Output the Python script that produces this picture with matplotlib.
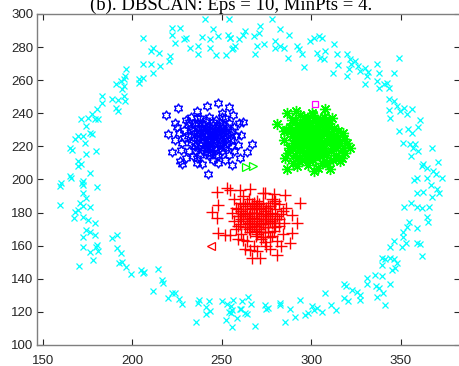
import numpy as np
import matplotlib
matplotlib.use("Agg")
import matplotlib.pyplot as plt
from matplotlib.path import Path

# cluster 1 - ring (cyan x)
ring_x = [240.6, 254.2, 222, 226.6, 222, 229, 230.2, 245.2, 248, 239.1, 243.4, 253.6, 254.6, 205.8, 223.8,
          232.2, 236.9, 243.4, 256.4, 211.4, 210.8, 215, 236.9, 246.9, 252.5, 221, 220.6, 205.8, 210.8, 215.5,
          211.8, 196.8, 195.9, 195.3, 194, 191.2, 204.1, 205.8, 203.9, 195.3, 194.6, 182.9, 189, 192.2, 195.3,
          195.9, 182.9, 191.2, 192.2, 180.1, 177.3, 171.7, 175.4, 179.2, 181, 174.5, 176.4, 177.3, 169.8, 172.6,
          167.9, 173.5, 165.1, 166.6, 174.1, 179.7, 170, 171.5, 169.6, 176.5, 165.1, 166, 172.1, 160.5,
          159.6, 172.3, 172.3, 180.6, 172.3, 174.5, 159.6, 170.8, 172.6, 176.4, 167.9, 169.8, 167.3, 172.6,
          175.4, 179.2, 174.5, 176.4, 179.2, 172.6, 191.3, 188.5, 180.2, 179.7, 172.6, 181, 191.8, 193.6,
          176.4, 177.9, 192.7, 194.6, 196.4, 170.3, 199.6, 204.8, 206.1, 206.7, 214.7, 216.4, 217.5, 211.9,
          222.5, 223.8, 219.9, 226.3, 227.8, 237.5, 236.5, 242.7, 241.2, 243.5, 241.2, 235.6, 250.4, 253.2,
          255.1, 254.1, 255.1, 252.3, 258.8, 255.6, 261.2, 260.6,
          256.2, 255.6, 260.3, 263.1, 264.4, 264.9, 266.2, 268.7, 274.3, 274.9, 275.6, 282.3, 282.7, 287.9,
          285.4, 291.1, 293.9, 296.6, 298, 300.4, 301.3, 303.5, 306, 307.8, 311.2, 314, 318.1, 319.6, 318.4,
          320.3, 322.7, 325.5, 327, 327, 331.1, 331.1, 335.8, 336.3, 337.6, 336.7, 339.5, 340.1, 341.1, 343.9,
          339.5, 341.4, 344.2, 346.1, 347.9, 345.1, 339.5, 347, 344.2, 346.4, 351.3, 350.7, 353.1, 351.3,
          353.6, 354.5, 359.2, 359.2, 360.7, 362, 351.7, 355.5, 359.2, 362, 365.7, 364.8, 365.2, 359.2, 362.6,
          367.6, 371.4, 370.4, 366.7, 357.3,
          254.7, 257.5, 255.7, 263.1, 262.1, 259.5, 267.8, 270.6, 271.5, 269.7, 268.7, 273.4, 278, 282.3,
          279.9, 282.7, 284.6, 279.9, 287.6, 287.3, 292.1, 293, 294.9, 296.2, 299.4, 301.3, 304.1, 306, 303.5,
          305, 307.8, 306.9, 312.5, 314.3, 314.7, 312.1, 319.9, 321.4, 322.1, 320.9, 319.9, 324.6, 326.4,
          327.4, 330.2, 331.5, 331.1, 330.2, 336.7, 337.6, 336.7, 337.6, 340.4, 342.3, 343.2, 346, 349.3,
          343.2, 346, 343.2, 344.2, 347.9, 349.8, 351.7, 353.6, 356.4, 349.3, 354.3, 356.2, 360.5, 359.9,
          351.1, 354.9, 356.8, 358.1, 359.5, 355.7, 362.6, 367.3, 361.7, 371, 364.4, 368.2, 369.5, 358.9,
          364.4, 372.8]
ring_y = [296.7, 296.7, 291.7, 291.7, 287.6, 285, 285.2, 290.7, 286.6, 286, 284.6, 287.6, 285.6, 285.6, 282.6,
          279.6, 280.6, 279.6, 279.6, 279.6, 277.6, 276.6, 275.6, 275.2, 275.2, 274.6, 271.5, 269.5, 269.5, 268.5,
          264.5, 266.5, 262.5, 260.5, 259.5, 257.5, 260.5, 261.5, 258.5, 256.5, 254.5, 250.5, 248.5, 248, 250.5,
          247.5, 246.4, 243, 241.4, 242.4, 239.4, 236.3, 237.3, 236.3, 236.3, 232.3, 228.3, 227.3, 226.3, 226.3,
          224.3, 222.3, 219.2, 217.6, 215.2, 217.2, 211.2, 209.2, 208.2, 204.1, 202.1, 201.1, 198.1, 198.1,
          196.1, 198.8, 196.7, 195.3, 191.7, 188.7, 184.6, 185.6, 184, 183.6, 180.6, 181.6, 176.6, 177.6,
          175.6, 173.5, 169.5, 168.5, 166.5, 165.1, 166.5, 164.5, 160.4, 159.4, 159.4, 157, 158.4, 155.4,
          156.4, 151.4, 149.8, 150.4, 147, 148, 142.7, 145.3, 143.3, 144.3, 145.7, 139.3, 137.3, 132.8,
          131.2, 131.6, 128.2, 127.6, 124.6, 127.2, 125.2, 126.8, 123.2, 120.7, 118.7, 114.1, 126.8, 124.8,
          123.6, 120.2, 119.2, 115.3, 116.3, 110.7, 126.8, 121.6,
          127.2, 121.1, 121.5, 119.1, 118.7, 128.8, 124.8, 111.7, 124.2, 121.5, 122.6, 125.2, 124.2, 121.5,
          114.1, 116.7, 127.2, 118.1, 119.1, 123.6, 121.1, 122.4, 120.1, 131.2, 124.2, 121.1, 136.9, 135.6, 128.2,
          126.6, 133.2, 132.2, 130.2, 127.2, 140.3, 136.9, 142.3, 135.6, 134.2, 129.2, 141.7, 131.2, 124.2, 136.9,
          152.4, 152, 152.4, 152, 149.4, 145.3, 148.3, 146.3, 159.4, 163.1, 165.5, 159.4, 161.4, 168.5,
          171.5, 174.6, 170.5, 161.8, 161, 153.8, 183.6, 186, 183.6, 182.6, 183.6, 177.6, 174.1, 192.1, 192.7,
          189.7, 192.1, 194.1, 196.7, 199.8,
          285.6, 280.6, 278.6, 289.7, 287.6, 284.6, 286.6, 288.7, 292.7, 280.6, 275.6, 281.6, 296.7, 290.7,
          283.6, 280.6, 279.2, 279.2, 287.6, 273.6, 280.6, 278.6, 275.6, 267.9, 283.6, 285.2, 286.6, 285.2, 276.6,
          273.6, 277.6, 272.6, 282, 275.6, 269.1, 264.5, 275.6, 272.6, 269.5, 266.5, 262.5, 271.5, 268.5,
          265.5, 267.5, 265, 262.5, 257.5, 269.5, 264.5, 259.5, 255.5, 257.5, 258.5, 255.1, 264.5, 273.2,
          248.4, 247.4, 241.8, 237.3, 244.4, 241.4, 243.4, 239.4, 242.4, 229.3, 230.3, 228.3, 235.7, 231.7,
          222.3, 221.2, 219.2, 221.6, 217.2, 214.2, 209.2, 219.2, 208.2, 210.8, 206.8, 205.1, 203.1, 201.1,
          201.1, 200.7]

# cluster 2 (blue hexagrams)
blue_x = [218.9, 225.8, 241.6, 248.1, 254.2, 256.5, 259.8, 266.8, 264, 255.6, 242.5, 227.7, 222.1, 220.2,
          223.9, 236, 226.6, 238.8, 230, 250,
          229, 231, 233, 234, 235, 236, 237, 238, 239, 240, 241, 241, 242, 243, 244, 245, 246, 247, 248, 249,
          250, 251, 252, 253, 254, 255, 256, 257, 258, 232, 234, 236, 238, 239, 240, 242, 243, 244, 245, 246,
          247, 248, 249, 250, 251, 252, 253, 231, 233, 228, 226, 227, 244, 239, 237, 235, 246, 241, 243, 252,
          254, 257, 259, 261, 260, 262, 230, 236, 248, 250, 233, 245, 247, 241, 238, 229, 224, 225, 232,
          234, 236, 238, 240, 242, 244, 246, 248, 250, 252, 237, 239, 241, 243, 245, 247, 249, 251, 253, 235,
          243, 240, 246, 238, 244, 249, 242, 247, 233, 251, 255, 256, 236, 239, 245, 248, 242, 237, 250, 253]
blue_y = [239, 243, 244.4, 246, 244, 239, 234, 221.5, 216.8, 208.8, 203.3, 209.4, 216.8, 227.3,
          234, 241.4, 211.2, 209.2, 236, 238,
          230, 226, 222, 229, 233, 225, 219, 228, 231, 224, 236, 220, 227, 230, 223, 233, 226, 218, 229, 222,
          231, 226, 219, 228, 234, 224, 229, 217, 226, 217, 214, 237, 215, 222, 229, 216, 238, 226, 212, 230,
          236, 214, 225, 217, 233, 212, 222, 233, 238, 222, 228, 218, 219, 234, 226, 220, 222, 231, 214, 237,
          215, 232, 221, 227, 213, 235, 213, 210, 210, 240, 227, 228, 224, 226, 237, 225, 224, 232, 235,
          224, 228, 221, 233, 223, 229, 219, 232, 224, 229, 231, 218, 228, 225, 235, 228, 219, 229, 225, 217,
          221, 219, 232, 225, 216, 234, 232, 215, 231, 221, 227, 220, 213, 227, 224, 226, 219, 234, 228, 232]

# cluster 3 (green asterisks)
green_x = [280.8, 286.4, 291.6, 300.4, 307.8, 311.5, 321.8, 318.1, 285.5, 286.4, 301.3, 310.6, 317.1, 284.6,
           287.5,
           288, 289, 290, 291, 291, 292, 293, 293, 294, 295, 295, 296, 296, 297, 297, 298, 299, 299, 300, 300,
           301, 302, 302, 303, 303, 304, 305, 305, 306, 307, 307, 308, 309, 309, 310, 311, 312, 313, 314, 315,
           316, 317, 289, 290, 292, 294, 298, 301, 304, 306, 310, 312, 314, 319, 320, 316, 285, 286, 287, 291,
           294, 296, 297, 299, 302, 303, 305, 308, 298, 293, 304, 295, 300,
           290, 292, 294, 296, 298, 300, 302, 304, 306, 308, 310, 312, 314, 296, 298, 300, 301, 303, 305, 307,
           309, 311, 313, 291, 293, 295, 297, 299, 301, 303, 306, 308, 289, 292, 297, 305, 315, 318, 302, 299]
green_y = [233.3, 240.4, 241.4, 240.4, 242.4, 237.3, 219.2, 224.3, 213.2, 206.2, 205.1, 206.2, 213.2, 229.3,
           219.2,
           232, 226, 222, 236, 215, 229, 224, 211, 233, 219, 227, 238, 222, 214, 230, 225, 218, 234, 228, 221,
           212, 236, 225, 217, 230, 222, 233, 214, 226, 219, 238, 229, 223, 210, 232, 217, 226, 220, 215, 229,
           222, 218, 236, 210, 208, 239, 209, 239, 207, 210, 236, 212, 224, 216, 222, 211, 224, 230, 216, 220,
           227, 216, 235, 222, 219, 233, 224, 215, 231, 218, 228, 212, 215,
           228, 233, 221, 230, 215, 225, 232, 219, 229, 224, 227, 221, 227, 226, 237, 218, 230, 223, 236, 216,
           233, 224, 231, 224, 230, 234, 220, 228, 222, 227, 222, 234, 219, 213, 225, 218, 220, 228, 214, 212]

# cluster 4 (red plus)
red_x = [244.4, 247.2, 252.8, 248.1, 247.6, 248.1, 251.9, 254.7, 260.3, 274.3, 285.4, 293.9, 289.2, 292,
         289.2, 288.3, 280.8, 271.5, 266.8, 265.9, 262.1, 254.7,
         256, 257, 258, 258, 259, 260, 260, 261, 261, 262, 263, 263, 264, 264, 265, 265, 266, 266, 267, 267,
         268, 268, 269, 269, 270, 270, 271, 271, 272, 272, 273, 273, 274, 274, 275, 275, 276, 276, 277, 277,
         278, 278, 279, 280, 280, 281, 282, 282, 283, 284, 285, 286, 257, 259, 262, 263, 266, 270, 273, 277,
         279, 283, 259, 262, 265, 268, 271, 274, 276, 279, 264, 269, 272, 267,
         259, 261, 263, 264, 265, 266, 267, 268, 269, 270, 271, 272, 273, 274, 275, 276, 277, 278, 279, 280,
         281, 262, 264, 266, 268, 270, 272, 274, 276, 278, 280, 282, 284, 260, 267, 269, 271, 273, 275, 277]
red_y = [180.5, 192.7, 194.7, 184.6, 176.6, 167.5, 166.5, 193.7, 193.7, 191.7, 190.7, 185.6, 178.6, 173.5,
         167.5, 161.5, 154.4, 152.4, 152.4, 157.4, 163.5, 166.5,
         180, 175, 183, 170, 178, 186, 173, 181, 167, 176, 184, 171, 179, 163, 188, 174, 182, 168, 177, 185,
         172, 160, 180, 166, 175, 187, 170, 182, 164, 178, 173, 186, 168, 181, 176, 160, 184, 171, 179, 165,
         174, 188, 169, 182, 176, 163, 185, 172, 179, 167, 174, 183, 188, 164, 190, 158, 194, 157, 192, 158,
         191, 160, 172, 179, 170, 183, 176, 171, 178, 174, 175, 172, 168, 180,
         182, 176, 180, 186, 178, 173, 183, 177, 169, 180, 185, 174, 179, 176, 183, 168, 175, 180, 186, 171,
         178, 185, 171, 176, 186, 167, 183, 162, 174, 166, 187, 176, 181, 178, 171, 184, 173, 165, 179, 184]

# noise points
magenta_x = [302.2]
magenta_y = [245.8]
green_tri_x = [263.7, 267.3]
green_tri_y = [207.5, 208.3]
red_tri_x = [244.3]
red_tri_y = [159.8]

# hexagram marker like matlab 'h'
ang = np.deg2rad(90 + 30 * np.arange(12))
rad = np.where(np.arange(12) % 2 == 0, 1.0, 0.577)
verts = np.column_stack([rad * np.cos(ang), rad * np.sin(ang)])
verts = np.vstack([verts, verts[0]])
hexagram = Path(verts, closed=True)

fig = plt.figure(figsize=(4.6, 3.66), dpi=100)
ax = fig.add_axes([0.081, 0.0574, 0.919, 0.9044])

ax.plot(ring_x, ring_y, 'x', color=(0, 1, 1), ms=5, mew=0.9, linestyle='none')
ax.plot(blue_x, blue_y, linestyle='none', marker=hexagram, ms=6.5, mfc='none', mec=(0, 0, 1), mew=1.0)
ax.plot(green_x, green_y, linestyle='none', marker=(8, 2, 0), ms=8, mec=(0, 1, 0), mew=1.0)
ax.plot(red_x, red_y, '+', color=(1, 0, 0), ms=8, mew=1.0, linestyle='none')
ax.plot(magenta_x, magenta_y, 's', mfc='none', mec=(1, 0, 1), ms=4.5, mew=0.9, linestyle='none')
ax.plot(green_tri_x, green_tri_y, '>', mfc='none', mec=(0, 1, 0), ms=6, mew=0.9, linestyle='none')
ax.plot(red_tri_x, red_tri_y, '<', mfc='none', mec=(1, 0, 0), ms=6, mew=0.9, linestyle='none')

ax.set_xlim(147, 383.1)
ax.set_ylim(100, 300)
ax.set_xticks([150, 200, 250, 300, 350])
ax.set_yticks(np.arange(100, 301, 20))
ax.tick_params(direction='in', top=True, right=True, length=4, width=0.8,
               color='#262626', labelcolor='#262626', labelsize=9.5)
ax.tick_params(axis='x', pad=7)
ax.tick_params(axis='y', pad=3)
for lab in ax.get_xticklabels() + ax.get_yticklabels():
    lab.set_family('Liberation Sans')
for sp in ax.spines.values():
    sp.set_color('#7f7f7f')
    sp.set_linewidth(1.0)

fig.text(0.503, 0.9727, '(b). DBSCAN: Eps = 10, MinPts = 4.', ha='center', va='baseline',
         family='Liberation Serif', fontsize=13.5)

fig.savefig('out.png', dpi=100)
